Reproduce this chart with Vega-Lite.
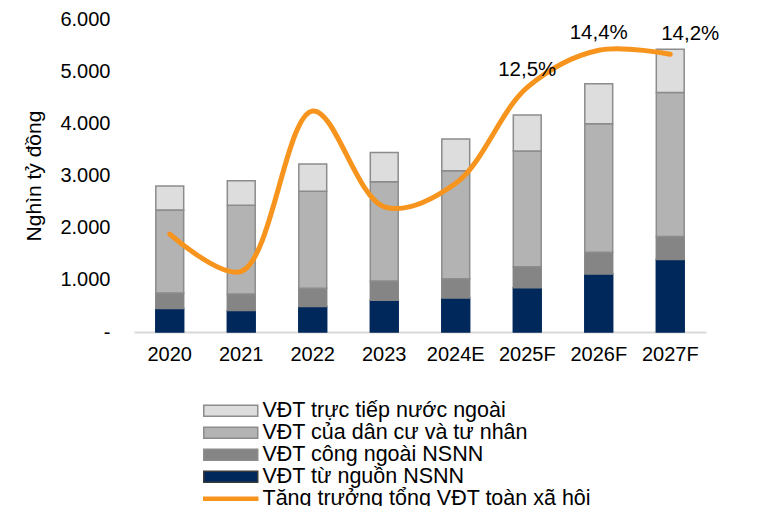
{
  "$schema": "https://vega.github.io/schema/vega-lite/v6.json",
  "width": 572,
  "height": 313,
  "autosize": "none",
  "padding": {"left": 134, "top": 19, "right": 63, "bottom": 174},
  "background": "white",
  "config": {
    "view": {"stroke": null},
    "font": "Liberation Sans",
    "axis": {"grid": false, "labelFont": "Liberation Sans", "labelFontSize": 20, "labelColor": "#000000", "titleFont": "Liberation Sans", "titleFontWeight": "normal", "titleColor": "#000000", "titleFontSize": 21}
  },
  "datasets": {
    "bars": [
      {"year": "2020", "series": "VĐT từ nguồn NSNN", "k": 1, "value": 450},
      {"year": "2020", "series": "VĐT công ngoài NSNN", "k": 2, "value": 300},
      {"year": "2020", "series": "VĐT của dân cư và tư nhân", "k": 3, "value": 1590},
      {"year": "2020", "series": "VĐT trực tiếp nước ngoài", "k": 4, "value": 460},
      {"year": "2021", "series": "VĐT từ nguồn NSNN", "k": 1, "value": 410},
      {"year": "2021", "series": "VĐT công ngoài NSNN", "k": 2, "value": 320},
      {"year": "2021", "series": "VĐT của dân cư và tư nhân", "k": 3, "value": 1700},
      {"year": "2021", "series": "VĐT trực tiếp nước ngoài", "k": 4, "value": 470},
      {"year": "2022", "series": "VĐT từ nguồn NSNN", "k": 1, "value": 490},
      {"year": "2022", "series": "VĐT công ngoài NSNN", "k": 2, "value": 350},
      {"year": "2022", "series": "VĐT của dân cư và tư nhân", "k": 3, "value": 1860},
      {"year": "2022", "series": "VĐT trực tiếp nước ngoài", "k": 4, "value": 520},
      {"year": "2023", "series": "VĐT từ nguồn NSNN", "k": 1, "value": 610},
      {"year": "2023", "series": "VĐT công ngoài NSNN", "k": 2, "value": 370},
      {"year": "2023", "series": "VĐT của dân cư và tư nhân", "k": 3, "value": 1900},
      {"year": "2023", "series": "VĐT trực tiếp nước ngoài", "k": 4, "value": 560},
      {"year": "2024E", "series": "VĐT từ nguồn NSNN", "k": 1, "value": 650},
      {"year": "2024E", "series": "VĐT công ngoài NSNN", "k": 2, "value": 370},
      {"year": "2024E", "series": "VĐT của dân cư và tư nhân", "k": 3, "value": 2070},
      {"year": "2024E", "series": "VĐT trực tiếp nước ngoài", "k": 4, "value": 610},
      {"year": "2025F", "series": "VĐT từ nguồn NSNN", "k": 1, "value": 850},
      {"year": "2025F", "series": "VĐT công ngoài NSNN", "k": 2, "value": 400},
      {"year": "2025F", "series": "VĐT của dân cư và tư nhân", "k": 3, "value": 2220},
      {"year": "2025F", "series": "VĐT trực tiếp nước ngoài", "k": 4, "value": 690},
      {"year": "2026F", "series": "VĐT từ nguồn NSNN", "k": 1, "value": 1110},
      {"year": "2026F", "series": "VĐT công ngoài NSNN", "k": 2, "value": 420},
      {"year": "2026F", "series": "VĐT của dân cư và tư nhân", "k": 3, "value": 2460},
      {"year": "2026F", "series": "VĐT trực tiếp nước ngoài", "k": 4, "value": 770},
      {"year": "2027F", "series": "VĐT từ nguồn NSNN", "k": 1, "value": 1390},
      {"year": "2027F", "series": "VĐT công ngoài NSNN", "k": 2, "value": 440},
      {"year": "2027F", "series": "VĐT của dân cư và tư nhân", "k": 3, "value": 2760},
      {"year": "2027F", "series": "VĐT trực tiếp nước ngoài", "k": 4, "value": 830}
    ],
    "growth": [
      {"year": "2020", "g": 5.0, "lbl": ""},
      {"year": "2021", "g": 3.1, "lbl": ""},
      {"year": "2022", "g": 11.3, "lbl": ""},
      {"year": "2023", "g": 6.4, "lbl": ""},
      {"year": "2024E", "g": 7.6, "lbl": ""},
      {"year": "2025F", "g": 12.5, "lbl": "12,5%"},
      {"year": "2026F", "g": 14.4, "lbl": "14,4%"},
      {"year": "2027F", "g": 14.2, "lbl": "14,2%"}
    ]
  },
  "encoding": {
    "x": {
      "field": "year", "type": "nominal", "sort": null,
      "scale": {"paddingInner": 0.61, "paddingOuter": 0.305},
      "axis": {"title": null, "labelAngle": 0, "ticks": false, "labelPadding": 12, "domainColor": "#D9D9D9", "domainWidth": 2}
    }
  },
  "layer": [
    {
      "data": {"name": "bars"},
      "mark": {"type": "bar", "strokeWidth": 1.5},
      "encoding": {
        "y": {
          "field": "value", "type": "quantitative", "stack": "zero",
          "scale": {"domain": [0, 6000]},
          "axis": {"title": "Nghìn tỷ đồng", "values": [0, 1000, 2000, 3000, 4000, 5000, 6000], "domain": false, "ticks": false, "labelPadding": 24, "titlePadding": 15,
            "labelExpr": "datum.value == 0 ? '-' : replace(format(datum.value, ','), ',', '.')"}
        },
        "order": {"field": "k", "type": "quantitative"},
        "color": {
          "field": "series", "type": "nominal",
          "scale": {
            "domain": ["VĐT trực tiếp nước ngoài", "VĐT của dân cư và tư nhân", "VĐT công ngoài NSNN", "VĐT từ nguồn NSNN", "Tăng trưởng tổng VĐT toàn xã hội"],
            "range": ["#DDDDDD", "#B3B3B3", "#858585", "#00285A", "#F7941D"]
          },
          "legend": {
            "title": null, "orient": "none", "legendX": 67, "legendY": 381, "direction": "vertical", "columns": 1, "padding": 0,
            "labelFont": "Liberation Sans", "labelFontSize": 21.5, "labelColor": "#000000", "labelLimit": 600, "labelOffset": 21, "rowPadding": -2,
            "symbolType": "M-4,-0.8H4V0.8H-4Z", "symbolSize": 182, "symbolOpacity": 1, "symbolOffset": 19,
            "encode": {
              "symbols": {
                "update": {
                  "shape": {"signal": "datum.value == 'Tăng trưởng tổng VĐT toàn xã hội' ? 'M-4,-0.21H4V0.21H-4Z' : 'M-4,-0.8H4V0.8H-4Z'"},
                  "stroke": {"signal": "datum.value == 'Tăng trưởng tổng VĐT toàn xã hội' ? '#F7941D' : (datum.value == 'VĐT từ nguồn NSNN' ? '#3a3a3a' : '#8C8C8C')"},
                  "strokeWidth": {"value": 1.5}
                }
              }
            }
          }
        },
        "stroke": {
          "field": "series", "type": "nominal", "legend": null,
          "scale": {
            "domain": ["VĐT trực tiếp nước ngoài", "VĐT của dân cư và tư nhân", "VĐT công ngoài NSNN", "VĐT từ nguồn NSNN"],
            "range": ["#8C8C8C", "#8C8C8C", "#858585", "#00285A"]
          }
        }
      }
    },
    {
      "data": {"name": "growth"},
      "layer": [
        {
          "mark": {"type": "line", "interpolate": "catmull-rom", "color": "#F7941D", "strokeWidth": 5, "strokeCap": "round"},
          "encoding": {
            "y": {
              "field": "g", "type": "quantitative",
              "scale": {"domain": [0, 16]},
              "axis": {"orient": "right", "title": null, "values": [0, 2, 4, 6, 8, 10, 12, 14, 16], "domain": false, "ticks": false, "labelPadding": 19, "labelExpr": "datum.value + '%'"}
            }
          }
        },
        {
          "transform": [{"filter": "datum.year != '2027F'"}],
          "mark": {"type": "text", "fontSize": 20.5, "font": "Liberation Sans", "color": "#000000", "dy": -17.5},
          "encoding": {
            "y": {"field": "g", "type": "quantitative", "scale": {"domain": [0, 16]}, "axis": null},
            "text": {"field": "lbl"}
          }
        },
        {
          "transform": [{"filter": "datum.year == '2027F'"}],
          "mark": {"type": "text", "fontSize": 20.5, "font": "Liberation Sans", "color": "#000000", "dy": -20, "dx": 20},
          "encoding": {
            "y": {"field": "g", "type": "quantitative", "scale": {"domain": [0, 16]}, "axis": null},
            "text": {"field": "lbl"}
          }
        }
      ]
    }
  ],
  "resolve": {"scale": {"y": "independent"}}
}
